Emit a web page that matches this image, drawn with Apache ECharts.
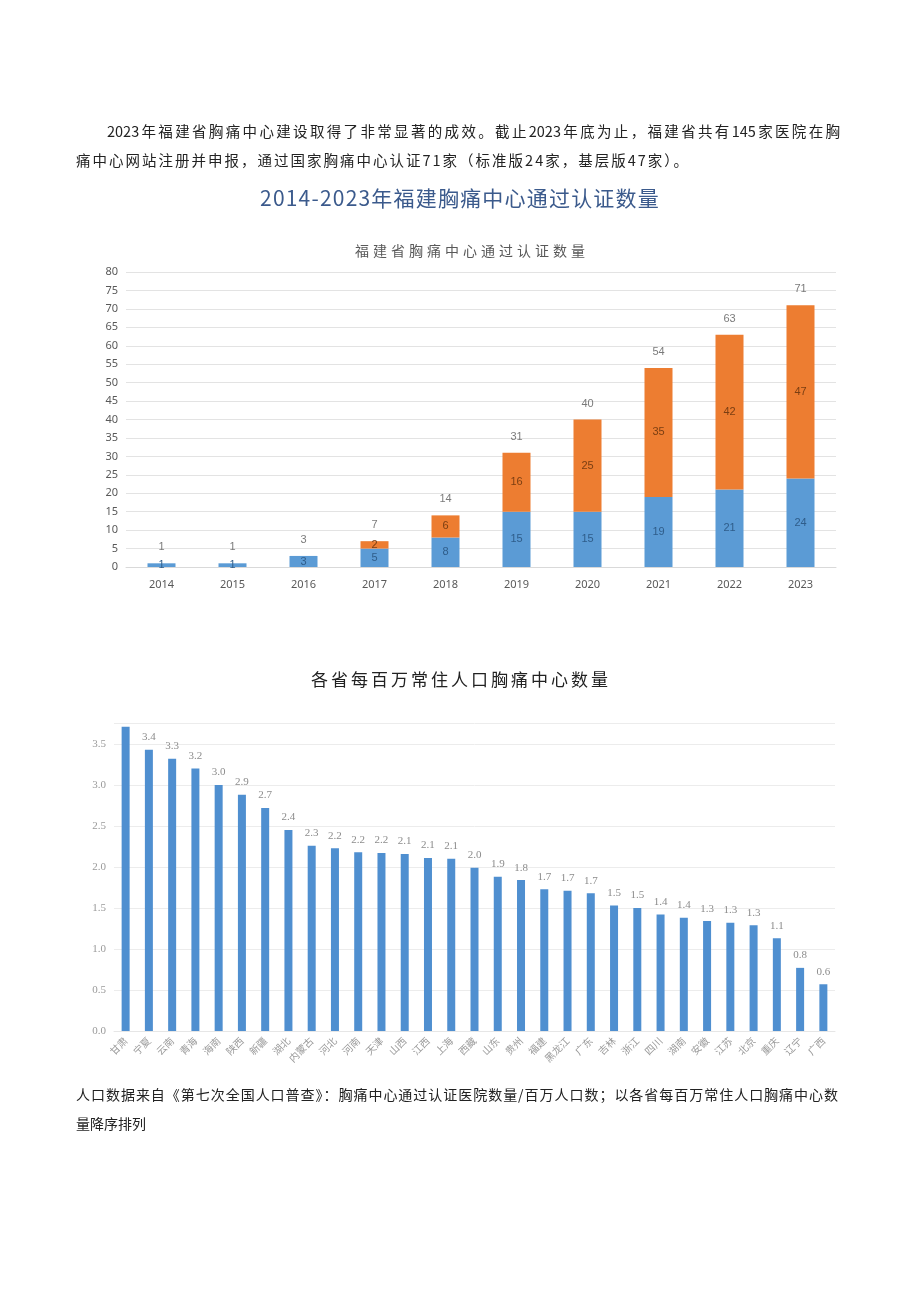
<!DOCTYPE html>
<html>
<head>
<meta charset="utf-8">
<script src="https://cdn.jsdelivr.net/npm/echarts@6/dist/echarts.min.js"></script>
<style>
  html, body { margin: 0; padding: 0; background: #fff; }
  #page { position: relative; width: 920px; height: 1301px; overflow: hidden; }
  #chart { position: absolute; left: 0; top: 0; width: 920px; height: 1301px; }
  .txt { position: absolute; font-family: "Noto Sans CJK SC", sans-serif; color: #222; white-space: nowrap; }
  .just { text-align: justify; text-align-last: justify; white-space: normal; }
</style>
</head>
<body>
<div id="page">
  <div id="chart"></div>
  <div class="txt just" style="left:107px; top:120px; width:733px; font-size:14.5px;">2023年福建省胸痛中心建设取得了非常显著的成效。截止2023年底为止，福建省共有145家医院在胸</div>
  <div class="txt" style="left:76px; top:149px; font-size:14.5px; letter-spacing:2px;">痛中心网站注册并申报，通过国家胸痛中心认证71家（标准版24家，基层版47家）。</div>
  <div class="txt" style="left:0; width:920px; text-align:center; top:182px; font-size:21px; color:#3b5a8c; letter-spacing:1.2px;">2014-2023年福建胸痛中心通过认证数量</div>
  <div class="txt" style="left:0; width:944px; text-align:center; top:240px; font-size:14px; color:#595959; letter-spacing:4px;">福建省胸痛中心通过认证数量</div>
  <div class="txt" style="left:0; width:922px; text-align:center; top:666px; font-size:17px; color:#222; letter-spacing:3px;">各省每百万常住人口胸痛中心数量</div>
  <div class="txt just" style="left:76px; top:1084px; width:762px; font-size:14px;">人口数据来自《第七次全国人口普查》：胸痛中心通过认证医院数量/百万人口数；以各省每百万常住人口胸痛中心数</div>
  <div class="txt" style="left:76px; top:1113px; font-size:14px;">量降序排列</div>
</div>
<script>
  // 福建省胸痛中心通过认证数量
  var years = ['2014', '2015', '2016', '2017', '2018', '2019', '2020', '2021', '2022', '2023'];
  var standardCounts = [1, 1, 3, 5, 8, 15, 15, 19, 21, 24];
  var basicCounts = [0, 0, 0, 2, 6, 16, 25, 35, 42, 47];
  var totalCounts = [1, 1, 3, 7, 14, 31, 40, 54, 63, 71];

  // 各省每百万常住人口胸痛中心数量
  var provinces = ['甘肃', '宁夏', '云南', '青海', '海南', '陕西', '新疆', '湖北', '内蒙古', '河北', '河南',
    '天津', '山西', '江西', '上海', '西藏', '山东', '贵州', '福建', '黑龙江', '广东', '吉林', '浙江', '四川',
    '湖南', '安徽', '江苏', '北京', '重庆', '辽宁', '广西'];
  var perMillion = [3.71, 3.43, 3.32, 3.2, 3.0, 2.88, 2.72, 2.45, 2.26, 2.23, 2.18,
    2.17, 2.16, 2.11, 2.1, 1.99, 1.88, 1.84, 1.73, 1.71, 1.68, 1.53, 1.5, 1.42,
    1.38, 1.34, 1.32, 1.29, 1.13, 0.77, 0.57];
  var perMillionLabels = ['', '3.4', '3.3', '3.2', '3.0', '2.9', '2.7', '2.4', '2.3', '2.2', '2.2',
    '2.2', '2.1', '2.1', '2.1', '2.0', '1.9', '1.8', '1.7', '1.7', '1.7', '1.5', '1.5', '1.4',
    '1.4', '1.3', '1.3', '1.3', '1.1', '0.8', '0.6'];

  var chart = echarts.init(document.getElementById('chart'));
  var option = {
    animation: false,
    grid: [
      {left: 126, right: 84, top: 272, bottom: 734},
      {left: 114, right: 85, top: 723.5, bottom: 270}
    ],
    xAxis: [
      {
        type: 'category', gridIndex: 0, data: years,
        axisLine: {lineStyle: {color: '#d9d9d9'}},
        axisTick: {show: false},
        axisLabel: {color: '#595959', fontSize: 11, margin: 12, fontFamily: 'Noto Sans'}
      },
      {
        type: 'category', gridIndex: 1, data: provinces,
        axisLine: {lineStyle: {color: '#e6e6e6'}},
        axisTick: {show: false},
        axisLabel: {color: '#9a9a9a', fontSize: 10, rotate: 45, margin: 8, interval: 0,
          fontFamily: 'Noto Sans CJK SC'}
      }
    ],
    yAxis: [
      {
        type: 'value', gridIndex: 0, min: 0, max: 80, interval: 5,
        axisLine: {show: false}, axisTick: {show: false},
        splitLine: {lineStyle: {color: '#e3e3e3'}},
        axisLabel: {color: '#595959', fontSize: 11, margin: 8, fontFamily: 'Noto Sans'}
      },
      {
        type: 'value', gridIndex: 1, min: 0, max: 3.75, interval: 0.5,
        axisLine: {show: false}, axisTick: {show: false},
        splitLine: {lineStyle: {color: '#ececec'}},
        axisLabel: {color: '#9a9a9a', fontSize: 11, margin: 8, showMaxLabel: false,
          fontFamily: 'Liberation Serif',
          formatter: function (v) { return v.toFixed(1); }}
      }
    ],
    series: [
      {
        name: '标准版', type: 'bar', stack: 'total', xAxisIndex: 0, yAxisIndex: 0,
        data: standardCounts, barWidth: 28,
        itemStyle: {color: '#5b9bd5'},
        label: {show: true, position: 'inside', color: '#2f5d8a', fontSize: 11}
      },
      {
        name: '基层版', type: 'bar', stack: 'total', xAxisIndex: 0, yAxisIndex: 0,
        data: basicCounts, barWidth: 28,
        itemStyle: {color: '#ed7d31'},
        label: {show: true, position: 'inside', color: '#7a3e12', fontSize: 11,
          formatter: function (p) { return p.value ? p.value : ''; }}
      },
      {
        name: '合计', type: 'scatter', xAxisIndex: 0, yAxisIndex: 0,
        data: totalCounts, symbolSize: 1,
        itemStyle: {color: 'rgba(0,0,0,0)'},
        label: {show: true, position: 'top', distance: 10, color: '#595959', fontSize: 11}
      },
      {
        name: '每百万常住人口', type: 'bar', xAxisIndex: 1, yAxisIndex: 1,
        data: perMillion, barWidth: 8,
        itemStyle: {color: '#4f8fd0'},
        label: {show: true, position: 'top', distance: 7, color: '#8c8c8c', fontSize: 11,
          fontFamily: 'Liberation Serif',
          formatter: function (p) { return perMillionLabels[p.dataIndex]; }}
      }
    ]
  };
  chart.setOption(option);
</script>
</body>
</html>
